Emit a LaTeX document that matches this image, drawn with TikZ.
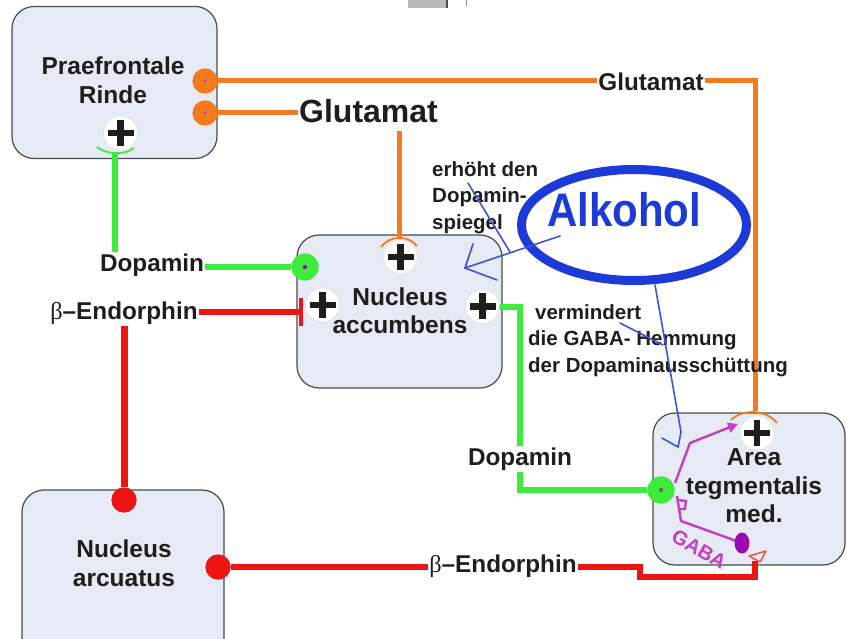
\documentclass[tikz,border=0pt]{standalone}
\usepackage{fontspec}
\setmainfont{Liberation Sans}
\newfontfamily\serifb{Liberation Serif}
\usetikzlibrary{shapes.geometric,arrows.meta,calc}
\definecolor{orng}{HTML}{F47A1E}
\definecolor{grn}{HTML}{3CEB3C}
\definecolor{rd}{HTML}{EE1414}
\definecolor{blu}{HTML}{1C3AD8}
\definecolor{bluL}{HTML}{3A56D6}
\definecolor{mag}{HTML}{C43CC8}
\definecolor{purp}{HTML}{9A0AAE}
\definecolor{boxfill}{HTML}{E6EAF4}
\definecolor{boxline}{HTML}{4A4A4A}
\definecolor{txt}{HTML}{1E1E1E}
\begin{document}
\begin{tikzpicture}[x=1pt,y=-1pt,
  box/.style={draw=boxline, line width=1.2pt, fill=boxfill, rounded corners=22pt, inner sep=0pt},
  boxtext/.style={font=\bfseries\fontsize{24.5}{28.5}\selectfont, align=center, text=txt, inner sep=0pt},
  lbl/.style={font=\bfseries\fontsize{24.3}{28}\selectfont, inner sep=1pt, text=txt},
  note/.style={font=\bfseries\fontsize{20.5}{26.5}\selectfont, align=left, inner sep=0pt, text=txt, anchor=north west},
  plusnode/.style={circle, fill=white, draw=black!12, line width=0.6pt, minimum size=34pt, inner sep=0pt,
    path picture={
      \fill[txt] ([xshift=-13pt,yshift=-3.3pt]path picture bounding box.center) rectangle ([xshift=13pt,yshift=3.3pt]path picture bounding box.center);
      \fill[txt] ([xshift=-3.3pt,yshift=-13pt]path picture bounding box.center) rectangle ([xshift=3.3pt,yshift=13pt]path picture bounding box.center);}},
  odot/.style={circle, fill=orng, minimum size=25pt, inner sep=0pt},
  gdot/.style={circle, fill=grn, minimum size=27pt, inner sep=0pt},
  rdot/.style={circle, fill=rd, minimum size=25pt, inner sep=0pt},
  pdot/.style={ellipse, fill=purp, minimum width=15pt, minimum height=21pt, inner sep=0pt},
  oline/.style={draw=orng, line width=5pt},
  gline/.style={draw=grn, line width=6pt},
  rline/.style={draw=rd, line width=6pt},
  mline/.style={draw=mag, line width=2.4pt},
  bline/.style={draw=bluL, line width=1.6pt, line cap=round},
  cup/.style={line width=1.8pt}
]
\clip (0,0) rectangle (847,639);
\fill[white] (0,0) rectangle (847,639);

% small artefact at top
\fill[gray!55] (408,0) rectangle (446,8);
\draw[black!70, line width=1.2pt] (447,0) -- (447,8);
\draw[black!45, line width=0.8pt] (466,0) -- (466,6);

% boxes
\node[box, minimum width=205pt, minimum height=152pt] (PR) at (114.5,82.5) {};
\node[box, minimum width=205pt, minimum height=153pt] (NA) at (399.5,311.5) {};
\node[box, minimum width=192pt, minimum height=152pt] (VTA) at (749,489) {};
\node[box, minimum width=202pt, minimum height=170pt] (ARC) at (123,575) {};

\node[boxtext] (PRt) at (113,80) {Praefrontale\\Rinde};
\node[boxtext] (NAt) at (400,310.5) {Nucleus\\accumbens};
\node[boxtext] (VTAt) at (754,486) {Area\\tegmentalis\\med.};
\node[boxtext] (ARCt) at (124,563) {Nucleus\\arcuatus};

% coordinates
\coordinate (oVTAc) at (755,411);
\coordinate (oNAs) at (399,131);
\coordinate (oNAc) at (399,237);
\coordinate (pPRcup) at (115,152);
\coordinate (tb) at (301,312);
\coordinate (tbU) at (301,298);
\coordinate (tbD) at (301,326);
\coordinate (r1) at (640,577);
\coordinate (rEnd) at (755,561);
\coordinate (m0) at (675,483);
\coordinate (m1) at (690,443);
\coordinate (mTip) at (738,424);
\coordinate (m2) at (677,496);
\coordinate (m3) at (681,521);

% labels (positions)
\node[lbl] (gluT) at (651,82) {Glutamat};
\node[lbl, font=\bfseries\fontsize{32}{36}\selectfont] (gluB) at (368.5,111) {Glutamat};
\node[lbl] (dopL) at (152,265) {Dopamin};
\node[lbl] (endL) at (124,313.5) {{\serifb\mdseries β}–Endorphin};
\node[lbl] (dopR) at (520,459) {Dopamin};
\node[lbl] (endB) at (503,566) {{\serifb\mdseries β}–Endorphin};

% dots
\node[odot] (oU) at (205,81) {};
\node[odot] (oL) at (205,113) {};
\node[gdot] (gNA) at (305,267) {};
\node[gdot] (gVTA) at (661,490) {};
\node[rdot] (rTop) at (124,500) {};
\node[rdot] (rArc) at (218,567) {};

% orange connectors
\draw[oline] (oU) -- (gluT.west |- oU);
\draw[oline] (gluT.east |- oU) -| (oVTAc);
\draw[oline] (oL) -- (gluB.west |- oL);
\draw[oline] (oNAs) -- (oNAc);

% green connectors
\draw[gline] (pPRcup) -- (dopL.north -| pPRcup);
\draw[gline] (dopL.east |- gNA) -- (gNA);
\draw[gline] (482.5,307) -| (dopR.north);
\draw[gline] (dopR.south) |- (gVTA);

% red connectors
\draw[rline] (endL.east |- tb) -- (tb);
\draw[rd, line width=4pt] (tbU) -- (tbD);
\draw[rline, line width=7pt] (endL.south -| rTop) -- (rTop);
\draw[rline] (rArc) -- (endB.west |- rArc);
\draw[rline] (endB.east |- rArc) -| (r1) -- (r1 -| rEnd) -- (rEnd);
\draw[rd!75!white, line width=1.5pt, line join=round] (749,556) -- (766,551) -- (760,562) -- cycle;

% magenta neuron
\draw[mline, -{Triangle[length=10pt,width=10pt]}] (m0) -- (m1) -- (mTip);
\draw[mline] (m2) -- (m3) -- (742,543);
\draw[mline] (678,500) -- (686,501) -- (685,509) -- (679,509);
\node[pdot] (pd) at (742,543) {};
\node[rotate=-30, text=mag, inner sep=0pt, font=\bfseries\fontsize{20}{22}\selectfont] (gaba) at (699,549) {GABA};

% redraw dots on top
\node[odot] at (oU) {};
\node[odot] at (oL) {};
\node[gdot] at (gNA) {};
\node[gdot] at (gVTA) {};
\node[rdot] at (rTop) {};
\node[rdot] at (rArc) {};
\fill[mag] (oU) circle (1.6pt);
\fill[mag] (oL) circle (1.6pt);
\fill[purp] (gNA) circle (2.2pt);
\fill[black!60] (gVTA) circle (2.2pt);

% plus marks
\node[plusnode] (pPR) at (120.5,133) {};
\node[plusnode] (pNAt) at (400.5,257) {};
\node[plusnode] (pNAl) at (322.5,305) {};
\node[plusnode] (pNAr) at (482.5,306.5) {};
\node[plusnode] (pVTA) at (757,433) {};

% receptor cups
\draw[grn, cup] (97,147) .. controls (106,155) and (126,155) .. (134,148);
\draw[orng, cup] (381,247) .. controls (390,235) and (408,235) .. (417,246);
\draw[orng, cup] (731,420) .. controls (742,409) and (766,409) .. (777,423);

% Dopamin label over line (white background)
\node[lbl, fill=white] at (dopR) {Dopamin};

% annotations
\node[note] (n1) at (432,161) {erhöht den\\Dopamin-\\spiegel};
\node[note] (n2) at (528,304) {\hspace*{7pt}vermindert\\die GABA- Hemmung\\der Dopaminausschüttung};

% Alkohol
\node[draw=blu, line width=9pt, ellipse, minimum width=225pt, minimum height=111pt] (alk) at (634,225) {};
\node[text=blu, inner sep=0pt, font=\bfseries\fontsize{42}{46}\selectfont] (alkT) at (624,210) {\scalebox{1}[1.12]{Alkohol}};

% blue arrows
\coordinate (b1s) at (560,236);
\coordinate (b1t) at (465,268);
\draw[bline] (b1s) -- (b1t);
\draw[bline] (473,244) -- (b1t) -- (497,280);
\draw[bline] (468,183) -- (510,252);
\coordinate (b2s) at (655,285);
\coordinate (b2t) at (678,447);
\draw[bline] (b2s) -- (681,432) -- (b2t) -- (662,438);
\draw[bline] (620,323) -- (663,345);
\end{tikzpicture}
\end{document}
